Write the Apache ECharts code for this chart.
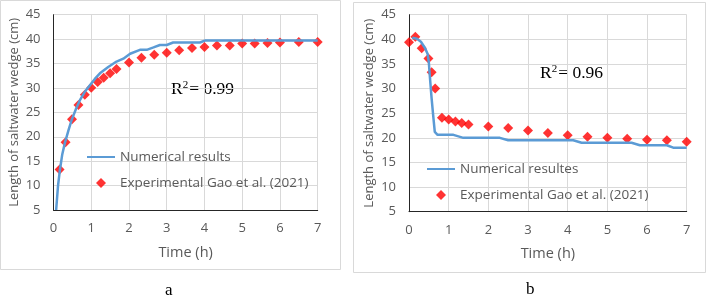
<!DOCTYPE html>
<html>
<head>
<meta charset="utf-8">
<script src="https://cdn.jsdelivr.net/npm/echarts@6/dist/echarts.min.js"></script>
<style>
html, body { margin: 0; padding: 0; background: #fff; }
#main { width: 708px; height: 304px; }
</style>
</head>
<body>
<div id="main"></div>
<script>
// a: 盐水楔推进
var numA_t = [0.07, 0.12, 0.17, 0.23, 0.3, 0.4, 0.48, 0.6, 0.7, 0.83, 0.97, 1.1, 1.23, 1.45, 1.67, 1.85, 2.03, 2.29, 2.47, 2.65, 2.82, 3.0, 3.17, 3.88, 4.01, 7.0];
var numA_v = [5, 10, 13.2, 16.3, 18.7, 21.4, 23.4, 25.8, 27.5, 29.2, 30.6, 31.9, 33.0, 34.3, 35.4, 36.0, 37.0, 37.8, 37.8, 38.3, 38.8, 38.8, 39.3, 39.3, 39.7, 39.7];
var expA_t = [0.16, 0.32, 0.49, 0.66, 0.83, 1.0, 1.17, 1.33, 1.5, 1.67, 2.0, 2.33, 2.67, 3.0, 3.33, 3.67, 4.0, 4.33, 4.67, 5.0, 5.33, 5.67, 6.0, 6.5, 7.0];
var expA_v = [13.3, 18.9, 23.6, 26.5, 28.6, 30.05, 31.2, 32.1, 33.0, 33.9, 35.2, 36.2, 36.8, 37.2, 37.7, 38.2, 38.4, 38.7, 38.7, 39.1, 39.1, 39.2, 39.3, 39.4, 39.4];

// b: 盐水楔后退
var numB_t = [0.08, 0.2, 0.3, 0.4, 0.47, 0.5, 0.53, 0.57, 0.61, 0.65, 0.72, 1.12, 1.37, 2.29, 2.5, 4.14, 4.35, 5.61, 5.82, 6.5, 6.66, 7.0];
var numB_v = [40.3, 40.1, 39.5, 38.3, 37.0, 35.3, 32.0, 28.0, 24.5, 21.2, 20.6, 20.6, 20.0, 20.0, 19.5, 19.5, 19.0, 19.0, 18.5, 18.5, 18.0, 18.0];
var expB_t = [0, 0.16, 0.32, 0.49, 0.57, 0.66, 0.83, 1.0, 1.17, 1.33, 1.5, 2.0, 2.5, 3.0, 3.5, 4.0, 4.5, 5.0, 5.5, 6.0, 6.5, 7.0];
var expB_v = [39.4, 40.5, 38.2, 36.1, 33.3, 30.0, 24.1, 23.7, 23.3, 23.0, 22.7, 22.3, 22.0, 21.5, 21.0, 20.5, 20.2, 20.0, 19.8, 19.6, 19.5, 19.2];

var numA_name = 'Numerical results';
var numB_name = 'Numerical resultes';
var exp_name = 'Experimental Gao et al. (2021)';
var r2A = '0.99';
var r2B = '0.96';

function zip(t, v) {
    var out = [];
    for (var i = 0; i < t.length; i++) {
        out.push([t[i], v[i]]);
    }
    return out;
}

var txtColor = '#595959';
var font = 'Open Sans';
var diamondIcon = 'path://M5,0 L10,5 L5,10 L0,5 Z';

function make_x(idx) {
    return {
        gridIndex: idx, type: 'value', min: 0, max: 7, interval: 1,
        name: 'Time (h)', nameLocation: 'middle', nameGap: 35,
        nameTextStyle: { color: txtColor, fontFamily: font, fontSize: 14.5 },
        axisLine: { show: true, onZero: false, lineStyle: { color: '#262626', width: 1 } },
        axisTick: { show: false },
        axisLabel: { color: txtColor, fontFamily: font, fontSize: 13, margin: 12 },
        splitLine: { show: true, lineStyle: { color: '#d9d9d9' } }
    };
}

function make_y(idx) {
    return {
        gridIndex: idx, type: 'value', min: 5, max: 45, interval: 5,
        name: 'Length of saltwater wedge (cm)', nameLocation: 'middle', nameGap: 33,
        nameTextStyle: { color: txtColor, fontFamily: font, fontSize: 13 },
        axisLine: { show: true, onZero: false, lineStyle: { color: '#262626', width: 1 } },
        axisTick: { show: false },
        axisLabel: { color: txtColor, fontFamily: font, fontSize: 13, margin: 13 },
        splitLine: { show: true, lineStyle: { color: '#d9d9d9' } }
    };
}

function make_legend(numName, x, y) {
    return {
        data: [
            { name: numName, itemStyle: { opacity: 0 } },
            { name: exp_name, icon: diamondIcon }
        ],
        orient: 'vertical', left: x, top: y, padding: 0,
        itemWidth: 28, itemHeight: 10, itemGap: 12, selectedMode: false,
        symbolKeepAspect: true,
        textStyle: { color: txtColor, fontFamily: font, fontSize: 13.5 }
    };
}

function r2_text(x, y, val) {
    return {
        type: 'text', left: x, top: y,
        style: {
            text: 'R{sup|2}= ' + val,
            fontFamily: 'Liberation Serif', fontSize: 17.5, fill: '#000',
            rich: { sup: { fontFamily: 'Liberation Serif', fontSize: 11, fill: '#000', verticalAlign: 'top', padding: [0, 1, 7, 0] } }
        }
    };
}

var myChart = echarts.init(document.getElementById('main'), null, { renderer: 'canvas' });

var option = {
    animation: false,
    backgroundColor: '#fff',
    grid: [
        { left: 53.5, top: 14.7, width: 264.2, height: 195.3 },
        { left: 409, top: 14.7, width: 277.7, height: 197 }
    ],
    xAxis: [make_x(0), make_x(1)],
    yAxis: [make_y(0), make_y(1)],
    legend: [make_legend(numA_name, 86, 150), make_legend(numB_name, 426, 162)],
    graphic: [
        { type: 'rect', shape: { x: 0.5, y: 0.5, width: 340, height: 269 }, style: { fill: 'none', stroke: '#d9d9d9', lineWidth: 1 }, z: -1 },
        { type: 'rect', shape: { x: 353.5, y: 2.5, width: 352, height: 270 }, style: { fill: 'none', stroke: '#d9d9d9', lineWidth: 1 }, z: -1 },
        r2_text(171, 80, r2A),
        r2_text(540, 64, r2B),
        { type: 'text', left: 165, top: 282, style: { text: 'a', fontFamily: 'Liberation Serif', fontSize: 17, fill: '#000' } },
        { type: 'text', left: 526, top: 281, style: { text: 'b', fontFamily: 'Liberation Serif', fontSize: 17, fill: '#000' } }
    ],
    series: [
        {
            name: numA_name, type: 'line', xAxisIndex: 0, yAxisIndex: 0,
            data: zip(numA_t, numA_v), symbol: 'none',
            lineStyle: { color: '#5b9bd5', width: 2.5 }, itemStyle: { color: '#5b9bd5' }
        },
        {
            name: exp_name, type: 'scatter', xAxisIndex: 0, yAxisIndex: 0,
            data: zip(expA_t, expA_v), symbol: 'diamond', symbolSize: 10,
            itemStyle: { color: '#ff0000' }
        },
        {
            name: numB_name, type: 'line', xAxisIndex: 1, yAxisIndex: 1,
            data: zip(numB_t, numB_v), symbol: 'none',
            lineStyle: { color: '#5b9bd5', width: 2.5 }, itemStyle: { color: '#5b9bd5' }
        },
        {
            name: exp_name, type: 'scatter', xAxisIndex: 1, yAxisIndex: 1,
            data: zip(expB_t, expB_v), symbol: 'diamond', symbolSize: 10,
            itemStyle: { color: '#ff0000' }
        }
    ]
};

if (option && typeof option === "object") {
    myChart.setOption(option, true);
}
</script>
</body>
</html>
